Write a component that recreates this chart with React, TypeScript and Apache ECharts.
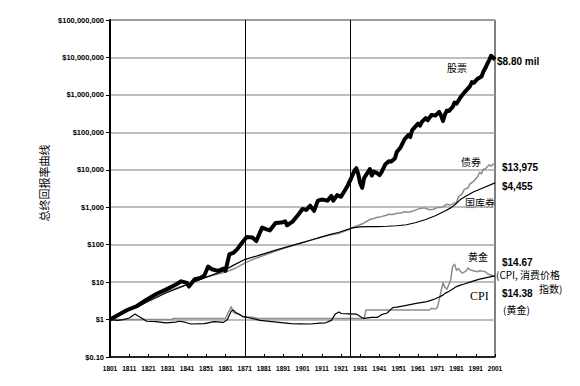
import React, { useEffect, useRef } from "react";
import * as echarts from "echarts";

// [year, value in dollars]
const stockPoints: [number, number][] = [
  [1801, 1.0], [1805, 1.3], [1810, 1.8], [1815, 2.3], [1820, 3.4], [1825, 4.8], [1830, 6.3],
  [1835, 8.5], [1838, 10.5], [1841, 9.5], [1842, 7.6], [1845, 12], [1848, 13], [1850, 15],
  [1852, 26], [1854, 22], [1857, 20], [1860, 23], [1861, 20], [1863, 55], [1865, 60],
  [1867, 75], [1870, 120], [1872, 160], [1875, 155], [1877, 125], [1880, 285], [1882, 260],
  [1884, 240], [1887, 380], [1890, 390], [1892, 420], [1893, 330], [1896, 420], [1899, 650],
  [1901, 900], [1903, 850], [1905, 1100], [1907, 800], [1909, 1500], [1911, 1600], [1914, 1500],
  [1916, 2000], [1917, 1500], [1919, 2100], [1921, 1900], [1924, 3400], [1926, 5500],
  [1928, 9500], [1929, 11000], [1930, 7500], [1931, 4300], [1932, 3300], [1933, 6000],
  [1936, 10500], [1937, 7000], [1938, 9000], [1940, 8000], [1941, 7200], [1942, 8500],
  [1944, 14000], [1946, 17000], [1947, 16500], [1949, 20000], [1950, 30000], [1952, 40000],
  [1954, 65000], [1956, 85000], [1957, 75000], [1958, 115000], [1961, 170000], [1962, 150000],
  [1963, 190000], [1965, 240000], [1966, 210000], [1968, 290000], [1970, 280000],
  [1972, 350000], [1973, 280000], [1974, 200000], [1975, 300000], [1976, 380000],
  [1977, 370000], [1979, 480000], [1980, 620000], [1981, 580000], [1983, 850000],
  [1985, 1150000], [1987, 1500000], [1988, 1700000], [1989, 2200000], [1990, 2100000],
  [1992, 2700000], [1994, 3100000], [1995, 4200000], [1996, 5200000], [1997, 6800000],
  [1998, 8500000], [1999, 11000000], [2000, 10000000], [2001, 8800000],
];

const bondPoints: [number, number][] = [
  [1801, 1.0], [1805, 1.4], [1810, 1.95], [1815, 2.4], [1820, 3.2], [1825, 4.2], [1830, 5.4],
  [1835, 6.8], [1840, 8.3], [1845, 10.5], [1850, 13], [1855, 15.5], [1860, 18], [1865, 22],
  [1871, 32], [1875, 40], [1880, 50], [1885, 62], [1890, 76], [1895, 92], [1900, 110],
  [1905, 130], [1910, 155], [1915, 180], [1920, 200], [1925, 255], [1928, 300], [1931, 340],
  [1933, 380], [1936, 470], [1938, 500], [1940, 540], [1942, 560], [1944, 600], [1946, 650],
  [1948, 640], [1950, 690], [1952, 700], [1954, 760], [1956, 730], [1958, 780], [1960, 850],
  [1962, 930], [1964, 960], [1966, 900], [1967, 860], [1969, 880], [1971, 980], [1973, 990],
  [1974, 1040], [1976, 1200], [1978, 1150], [1980, 1300], [1981, 1320], [1982, 1900],
  [1984, 2300], [1985, 3000], [1987, 3300], [1988, 4200], [1990, 5000], [1992, 6500],
  [1993, 8500], [1994, 7800], [1995, 10500], [1996, 10400], [1997, 12000], [1998, 13500],
  [1999, 12500], [2000, 14000], [2001, 13975],
];

const billPoints: [number, number][] = [
  [1801, 1.0], [1810, 1.7], [1815, 2.1], [1820, 2.9], [1830, 5.1], [1840, 8.2], [1850, 13],
  [1860, 20], [1865, 28], [1871, 40], [1880, 55], [1888, 74], [1900, 110], [1906, 135],
  [1915, 185], [1920, 215], [1927, 280], [1931, 300], [1935, 305], [1940, 305], [1945, 310],
  [1950, 320], [1955, 340], [1960, 390], [1965, 470], [1970, 590], [1975, 790], [1978, 960],
  [1980, 1150], [1983, 1600], [1986, 2000], [1990, 2600], [1995, 3300], [2001, 4455],
];

const goldPoints: [number, number][] = [
  [1801, 1.0], [1833, 1.0], [1834, 1.07], [1861, 1.07], [1862, 1.4], [1864, 2.2], [1865, 1.6],
  [1866, 1.45], [1868, 1.4], [1870, 1.2], [1872, 1.15], [1875, 1.15], [1878, 1.07],
  [1933, 1.07], [1934, 1.8], [1967, 1.8], [1968, 2.0], [1970, 1.9], [1971, 2.1], [1972, 3.3],
  [1973, 5.8], [1974, 9.6], [1975, 7.2], [1976, 6.5], [1977, 8.5], [1978, 11.6], [1979, 26.4],
  [1980, 30], [1981, 20.6], [1982, 23], [1983, 19.6], [1984, 17.5], [1985, 18.5], [1986, 20],
  [1987, 24], [1988, 21], [1989, 20.7], [1990, 19.9], [1991, 19.5], [1992, 18.8], [1993, 20.2],
  [1994, 19.8], [1995, 19.5], [1996, 19], [1997, 17], [1998, 16], [1999, 15.5], [2000, 14.5],
  [2001, 14.38],
];

const cpiPoints: [number, number][] = [
  [1801, 1.0], [1805, 0.95], [1808, 1.0], [1811, 1.1], [1814, 1.4], [1816, 1.2], [1818, 1.05],
  [1820, 0.9], [1825, 0.88], [1830, 0.82], [1835, 0.85], [1837, 0.9], [1840, 0.85],
  [1843, 0.76], [1850, 0.78], [1855, 0.88], [1857, 0.87], [1860, 0.84], [1862, 1.0],
  [1864, 1.7], [1865, 1.8], [1866, 1.6], [1870, 1.2], [1873, 1.12], [1879, 0.95], [1885, 0.88],
  [1890, 0.83], [1895, 0.78], [1900, 0.77], [1905, 0.76], [1910, 0.8], [1913, 0.82],
  [1916, 0.95], [1918, 1.4], [1920, 1.6], [1921, 1.45], [1925, 1.42], [1929, 1.4], [1932, 1.12],
  [1933, 1.07], [1937, 1.15], [1940, 1.15], [1942, 1.35], [1945, 1.5], [1947, 1.9],
  [1948, 2.1], [1950, 2.15], [1955, 2.4], [1960, 2.7], [1965, 2.95], [1968, 3.3], [1970, 3.6],
  [1972, 4.0], [1974, 4.5], [1975, 5.0], [1977, 5.6], [1979, 6.5], [1980, 7.1], [1981, 7.6],
  [1983, 8.3], [1985, 8.9], [1988, 10.0], [1990, 10.8], [1993, 12.0], [1996, 13.0],
  [1999, 14.0], [2001, 14.67],
];

const xTickYears: number[] = [
  1801, 1811, 1821, 1831, 1841, 1851, 1861, 1871, 1881, 1891, 1901, 1911, 1921, 1931, 1941,
  1951, 1961, 1971, 1981, 1991, 2001,
];

const eraLines: number[] = [1871, 1926];

const yTitle = "总终回报率曲线";

const sideLabels: { text: string; x: number; y: number; kind: "num" | "cjk" | "serif" }[] = [
  { text: "$8.80 mil", x: 497, y: 61, kind: "num" },
  { text: "股票", x: 447, y: 67, kind: "cjk" },
  { text: "债券", x: 461, y: 161, kind: "cjk" },
  { text: "$13,975", x: 502, y: 167, kind: "num" },
  { text: "$4,455", x: 502, y: 186, kind: "num" },
  { text: "国库券", x: 465, y: 202, kind: "cjk" },
  { text: "黄金", x: 468, y: 256, kind: "cjk" },
  { text: "$14.67", x: 502, y: 262, kind: "num" },
  { text: "(CPI, 消费价格", x: 496, y: 274, kind: "cjk" },
  { text: "指数)", x: 539, y: 288, kind: "cjk" },
  { text: "$14.38", x: 502, y: 293, kind: "num" },
  { text: "CPI", x: 470, y: 296, kind: "serif" },
  { text: "(黄金)", x: 503, y: 309, kind: "cjk" },
];

function formatDollar(v: number): string {
  if (v < 0.5) return "$0.10";
  return "$" + Math.round(v).toLocaleString("en-US");
}

export default function App() {
  const ref = useRef<HTMLDivElement>(null);
  useEffect(() => {
    if (!ref.current) return;
    const chart = echarts.init(ref.current, undefined, { renderer: "svg" });
    const numFont = "'Liberation Sans', Arial, sans-serif";
    const cjkFont = "'Noto Sans CJK SC', sans-serif";
    const line = (name: string, data: [number, number][], color: string, width: number, z: number, extra: any = {}) => ({
      name,
      type: "line",
      data,
      showSymbol: false,
      symbol: "none",
      z,
      lineStyle: { color, width, join: "round" },
      ...extra,
    });
    chart.setOption({
      animation: false,
      grid: {
        left: 110,
        right: 85,
        top: 20,
        bottom: 29,
        show: true,
        borderColor: "#000",
        borderWidth: 1,
        backgroundColor: "transparent",
      },
      xAxis: {
        type: "value",
        min: 1801,
        max: 2001,
        axisLine: { show: true, lineStyle: { color: "#000", width: 1.5 } },
        axisTick: { show: true, inside: true, length: 3, customValues: xTickYears, lineStyle: { color: "#000" } },
        axisLabel: {
          customValues: xTickYears,
          fontSize: 6.5,
          fontWeight: "bold",
          fontFamily: numFont,
          color: "#000",
          margin: 8,
          formatter: (v: number) => String(v),
        },
        splitLine: { show: false },
      },
      yAxis: {
        type: "log",
        logBase: 10,
        min: 0.1,
        max: 100000000,
        splitNumber: 9,
        axisLine: { show: true, lineStyle: { color: "#000", width: 2 } },
        axisTick: { show: true, length: 4, lineStyle: { color: "#000" } },
        axisLabel: {
          fontSize: 7.5,
          fontWeight: "bold",
          fontFamily: numFont,
          color: "#000",
          margin: 6,
          formatter: formatDollar,
        },
        splitLine: { show: true, lineStyle: { color: "#a8a8a8", width: 1.6 } },
        minorTick: { show: false },
      },
      graphic: [
        {
          type: "text",
          x: 44,
          y: 183,
          rotation: Math.PI / 2,
          style: {
            text: yTitle,
            fontSize: 11,
            fontFamily: cjkFont,
            fill: "#000",
            align: "center",
            verticalAlign: "middle",
          },
        },
        ...sideLabels.map((l) => {
          const fs = l.kind === "num" ? 10 : l.kind === "serif" ? 12 : 10;
          return {
            type: "text",
            x: l.x,
            y: l.y,
            style: {
              text: l.text,
              fontSize: fs,
              lineHeight: fs,
              fontWeight: l.kind === "num" ? "bold" : "normal",
              fontFamily: l.kind === "num" ? numFont : l.kind === "serif" ? "'Liberation Serif', serif" : cjkFont,
              fill: "#000",
              align: "left",
              verticalAlign: "middle",
            },
          };
        }),
      ],
      series: [
        line("黄金", goldPoints, "#8c8c8c", 1.5, 2),
        line("CPI", cpiPoints, "#000", 1.2, 3),
        line("债券", bondPoints, "#8c8c8c", 1.5, 4),
        line("国库券", billPoints, "#000", 1.2, 5),
        line("股票", stockPoints, "#000", 4, 6, {
          markLine: {
            silent: true,
            symbol: "none",
            label: { show: false },
            lineStyle: { color: "#000", width: 1, type: "solid" },
            data: eraLines.map((y) => ({ xAxis: y })),
          },
        }),
      ],
    });
    return () => chart.dispose();
  }, []);
  return (
    <div
      ref={ref}
      style={{ position: "absolute", left: 0, top: 0, width: 580, height: 386 }}
    />
  );
}
